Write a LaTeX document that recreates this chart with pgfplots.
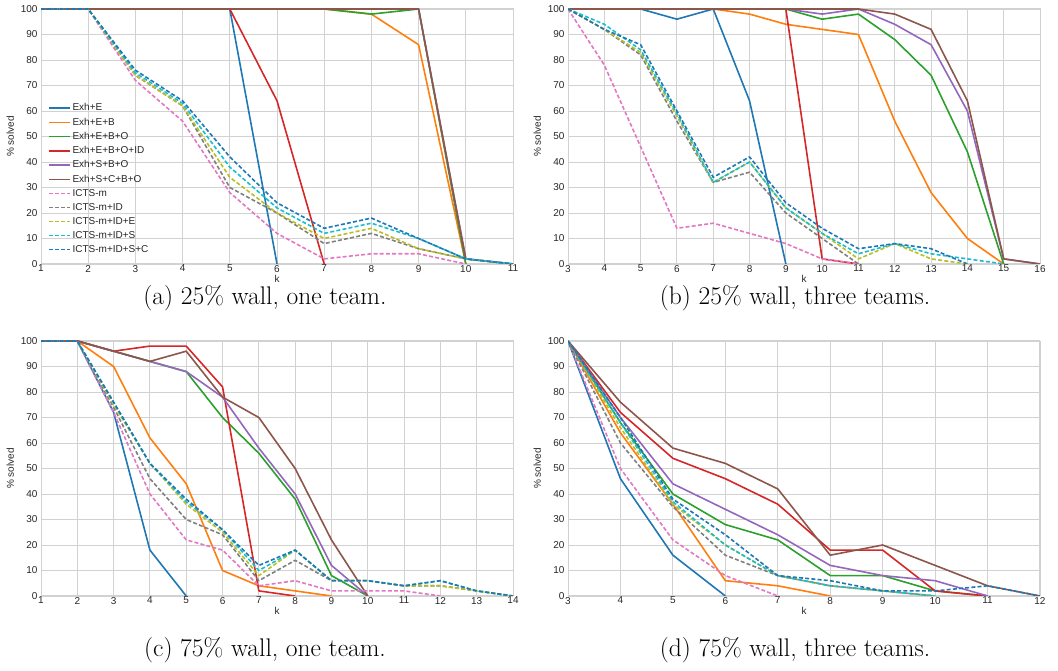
\documentclass[border=0pt]{standalone}
\usepackage{pgfplots}
\pgfplotsset{compat=1.18}
\usepackage{fontspec}
\newfontfamily\af{Liberation Sans}
\definecolor{c0}{HTML}{1F77B4}
\definecolor{c1}{HTML}{FF7F0E}
\definecolor{c2}{HTML}{2CA02C}
\definecolor{c3}{HTML}{D62728}
\definecolor{c4}{HTML}{9467BD}
\definecolor{c5}{HTML}{8C564B}
\definecolor{c6}{HTML}{E377C2}
\definecolor{c7}{HTML}{7F7F7F}
\definecolor{c8}{HTML}{BCBD22}
\definecolor{c9}{HTML}{17BECF}
\definecolor{gridc}{RGB}{210,210,210}
\pgfplotsset{
  myax/.style={
    scale only axis, width=472pt, height=255pt, anchor=south west,
    ymin=0, ymax=100, ytick={0,10,...,100},
    grid=major, major grid style={draw=gridc, line width=0.9pt},
    axis line style={draw=gridc, line width=1pt},
    major tick length=0pt,
    tick label style={font=\af\fontsize{10}{12}\selectfont, text=black!85},
    xticklabel style={yshift=2.5pt},
    /pgf/number format/assume math mode=true,
    ylabel={\% solved}, xlabel={k},
    label style={font=\af\fontsize{10}{12}\selectfont, text=black!85},
    xlabel style={at={(axis description cs:0.5,0)}, anchor=north, yshift=-8pt},
    every axis plot/.append style={line width=1.6pt, line join=round},
    legend image code/.code={\draw[##1] (0pt,0pt) -- (21pt,0pt);},
  },
  sd/.style={dash pattern=on 4pt off 2.2pt},
  s0/.style={c0},
  s1/.style={c1},
  s2/.style={c2},
  s3/.style={c3},
  s4/.style={c4},
  s5/.style={c5},
  s6/.style={c6, sd},
  s7/.style={c7, sd},
  s8/.style={c8, sd},
  s9/.style={c9, sd},
  s10/.style={c0, sd},
}
\begin{document}
\begin{tikzpicture}
\useasboundingbox (0pt,0pt) rectangle (1058pt,671pt);
% (a)
\begin{axis}[myax, at={(41pt,407pt)}, xmin=1, xmax=11, xtick={1,...,11},
  legend style={draw=none, fill=none, at={(0.008,0.645)}, anchor=north west,
    font=\af\fontsize{10}{12}\selectfont, text=black!85, row sep=1.5pt,
    legend cell align=left}]
\addplot[s0] coordinates {(1,100)(2,100)(3,100)(4,100)(5,100)(6,0)};
\addplot[s1] coordinates {(1,100)(2,100)(3,100)(4,100)(5,100)(6,100)(7,100)(8,98)(9,86)(10,0)};
\addplot[s2] coordinates {(1,100)(2,100)(3,100)(4,100)(5,100)(6,100)(7,100)(8,98)(9,100)(10,0)};
\addplot[s3] coordinates {(1,100)(2,100)(3,100)(4,100)(5,100)(6,64)(7,0)};
\addplot[s4] coordinates {(1,100)(2,100)(3,100)(4,100)(5,100)(6,100)(7,100)(8,100)(9,100)(10,2)(11,0)};
\addplot[s5] coordinates {(1,100)(2,100)(3,100)(4,100)(5,100)(6,100)(7,100)(8,100)(9,100)(10,2)(11,0)};
\addplot[s6] coordinates {(1,100)(2,100)(3,72)(4,56)(5,28)(6,12)(7,2)(8,4)(9,4)(10,0)};
\addplot[s7] coordinates {(1,100)(2,100)(3,74)(4,62)(5,30)(6,20)(7,8)(8,12)(9,6)(10,2)(11,0)};
\addplot[s8] coordinates {(1,100)(2,100)(3,74)(4,62)(5,34)(6,20)(7,10)(8,14)(9,6)(10,2)(11,0)};
\addplot[s9] coordinates {(1,100)(2,100)(3,75)(4,63)(5,38)(6,22)(7,12)(8,16)(9,10)(10,2)(11,0)};
\addplot[s10] coordinates {(1,100)(2,100)(3,76)(4,64)(5,42)(6,24)(7,14)(8,18)(9,10)(10,2)(11,0)};
\legend{Exh+E, Exh+E+B, Exh+E+B+O, Exh+E+B+O+ID, Exh+S+B+O, Exh+S+C+B+O, ICTS-m, ICTS-m+ID, ICTS-m+ID+E, ICTS-m+ID+S, ICTS-m+ID+S+C}
\end{axis}
% (b)
\begin{axis}[myax, at={(568pt,407pt)}, xmin=3, xmax=16, xtick={3,...,16}]
\addplot[s0] coordinates {(3,100)(4,100)(5,100)(6,96)(7,100)(8,64)(9,0)};
\addplot[s1] coordinates {(3,100)(4,100)(5,100)(6,100)(7,100)(8,98)(9,94)(10,92)(11,90)(12,56)(13,28)(14,10)(15,0)};
\addplot[s2] coordinates {(3,100)(4,100)(5,100)(6,100)(7,100)(8,100)(9,100)(10,96)(11,98)(12,88)(13,74)(14,44)(15,0)};
\addplot[s3] coordinates {(3,100)(4,100)(5,100)(6,100)(7,100)(8,100)(9,100)(10,2)(11,0)};
\addplot[s4] coordinates {(3,100)(4,100)(5,100)(6,100)(7,100)(8,100)(9,100)(10,98)(11,100)(12,94)(13,86)(14,60)(15,2)(16,0)};
\addplot[s5] coordinates {(3,100)(4,100)(5,100)(6,100)(7,100)(8,100)(9,100)(10,100)(11,100)(12,98)(13,92)(14,64)(15,2)(16,0)};
\addplot[s6] coordinates {(3,100)(4,78)(5,46)(6,14)(7,16)(8,12)(9,8)(10,2)(11,0)};
\addplot[s7] coordinates {(3,100)(4,92)(5,82)(6,56)(7,32)(8,36)(9,20)(10,10)(11,0)};
\addplot[s8] coordinates {(3,100)(4,92)(5,83)(6,58)(7,32)(8,40)(9,22)(10,12)(11,2)(12,8)(13,2)(14,0)};
\addplot[s9] coordinates {(3,100)(4,94)(5,84)(6,59)(7,32)(8,40)(9,22)(10,12)(11,4)(12,8)(13,4)(14,2)(15,0)};
\addplot[s10] coordinates {(3,100)(4,92)(5,86)(6,60)(7,34)(8,42)(9,24)(10,14)(11,6)(12,8)(13,6)(14,0)};
\end{axis}
% (c)
\begin{axis}[myax, at={(41pt,75pt)}, xmin=1, xmax=14, xtick={1,...,14}]
\addplot[s0] coordinates {(1,100)(2,100)(3,72)(4,18)(5,0)};
\addplot[s1] coordinates {(1,100)(2,100)(3,90)(4,62)(5,44)(6,10)(7,4)(8,2)(9,0)};
\addplot[s2] coordinates {(1,100)(2,100)(3,96)(4,92)(5,88)(6,70)(7,56)(8,38)(9,8)(10,0)};
\addplot[s3] coordinates {(1,100)(2,100)(3,96)(4,98)(5,98)(6,82)(7,2)(8,0)};
\addplot[s4] coordinates {(1,100)(2,100)(3,96)(4,92)(5,88)(6,78)(7,58)(8,40)(9,12)(10,0)};
\addplot[s5] coordinates {(1,100)(2,100)(3,96)(4,92)(5,96)(6,78)(7,70)(8,50)(9,22)(10,0)};
\addplot[s6] coordinates {(1,100)(2,100)(3,72)(4,40)(5,22)(6,18)(7,4)(8,6)(9,2)(10,2)(11,2)(12,0)};
\addplot[s7] coordinates {(1,100)(2,100)(3,74)(4,46)(5,30)(6,24)(7,6)(8,14)(9,6)(10,6)(11,4)(12,4)(13,2)(14,0)};
\addplot[s8] coordinates {(1,100)(2,100)(3,75)(4,52)(5,36)(6,25)(7,8)(8,18)(9,6)(10,6)(11,4)(12,4)(13,2)(14,0)};
\addplot[s9] coordinates {(1,100)(2,100)(3,76)(4,52)(5,37)(6,26)(7,10)(8,18)(9,6)(10,6)(11,4)(12,6)(13,2)(14,0)};
\addplot[s10] coordinates {(1,100)(2,100)(3,76)(4,52)(5,38)(6,26)(7,12)(8,18)(9,6)(10,6)(11,4)(12,6)(13,2)(14,0)};
\end{axis}
% (d)
\begin{axis}[myax, at={(568pt,75pt)}, xmin=3, xmax=12, xtick={3,...,12}]
\addplot[s0] coordinates {(3,100)(4,46)(5,16)(6,0)};
\addplot[s1] coordinates {(3,100)(4,64)(5,36)(6,6)(7,4)(8,0)};
\addplot[s2] coordinates {(3,100)(4,68)(5,40)(6,28)(7,22)(8,8)(9,8)(10,2)(11,0)};
\addplot[s3] coordinates {(3,100)(4,72)(5,54)(6,46)(7,36)(8,18)(9,18)(10,2)(11,0)};
\addplot[s4] coordinates {(3,100)(4,70)(5,44)(6,34)(7,24)(8,12)(9,8)(10,6)(11,0)};
\addplot[s5] coordinates {(3,100)(4,76)(5,58)(6,52)(7,42)(8,16)(9,20)(10,12)(11,4)(12,0)};
\addplot[s6] coordinates {(3,100)(4,50)(5,22)(6,8)(7,0)};
\addplot[s7] coordinates {(3,100)(4,60)(5,35)(6,16)(7,8)(8,4)(9,2)(10,0)};
\addplot[s8] coordinates {(3,100)(4,66)(5,36)(6,20)(7,8)(8,4)(9,2)(10,0)};
\addplot[s9] coordinates {(3,100)(4,68)(5,37)(6,20)(7,8)(8,4)(9,2)(10,0)};
\addplot[s10] coordinates {(3,100)(4,70)(5,38)(6,24)(7,8)(8,6)(9,2)(10,2)(11,4)(12,0)};
\end{axis}
\begin{scope}[every node/.style={font=\fontsize{25.5}{30}\selectfont, inner sep=0pt}]
\node at (265pt,373pt) {(a) 25\% wall, one team.};
\node at (795pt,373pt) {(b) 25\% wall, three teams.};
\node at (265pt,21pt) {(c) 75\% wall, one team.};
\node at (795pt,21pt) {(d) 75\% wall, three teams.};
\end{scope}
\end{tikzpicture}
\end{document}
